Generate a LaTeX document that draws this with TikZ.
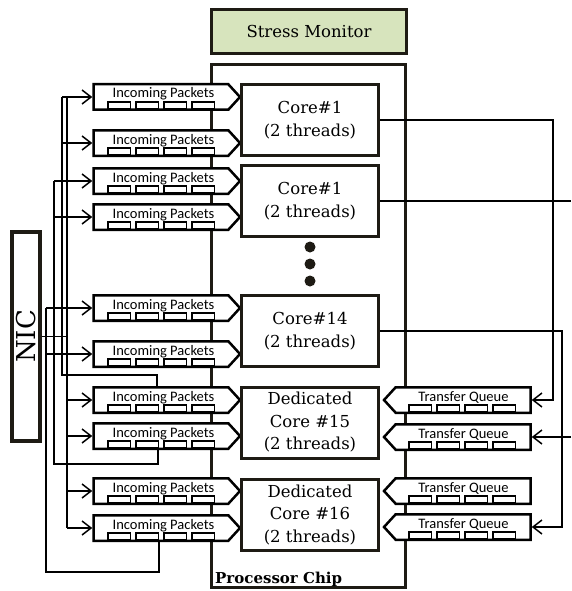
\documentclass[tikz,border=0pt]{standalone}
\usepackage{fontspec}
\setmainfont{DejaVu Serif}
\newfontfamily\qfont{Carlito}
\usetikzlibrary{arrows.meta,shapes.symbols,positioning,calc}
\definecolor{ink}{HTML}{1E1B14}
\definecolor{monbg}{HTML}{D7E4BD}
\tikzset{
  chip/.style={draw=ink, line width=3pt, minimum width=194pt, minimum height=523pt, inner sep=0pt},
  monitor/.style={draw=ink, fill=monbg, line width=3pt, minimum width=195pt, minimum height=44pt, font=\fontsize{16.5}{19}\selectfont},
  nicbox/.style={draw=ink, line width=4pt, minimum width=28pt, minimum height=209pt, inner sep=0pt},
  core/.style={draw=ink, line width=3pt, fill=white, minimum width=137pt, minimum height=71pt, align=center, font=\fontsize{16.5}{22.5}\selectfont, inner sep=0pt},
  inq/.style={signal, signal to=east, signal pointer angle=95, draw=black, line width=2.5pt, fill=white, minimum width=146.5pt, minimum height=25.5pt, inner sep=0pt},
  outq/.style={inq, signal to=west},
  slot/.style={draw=black, line width=1.5pt, fill=white, minimum width=22.5pt, minimum height=7pt, inner sep=0pt},
  qlab/.style={font=\qfont\fontsize{14.5}{15}\selectfont, inner sep=0pt, anchor=base},
  wire/.style={draw=black, line width=1.5pt},
  arr/.style={wire, -{Straight Barb[length=9pt,width=14pt,line width=1.5pt]}},
  dot/.style={circle, fill=ink, inner sep=0pt, minimum size=11pt},
}

\begin{document}
\begin{tikzpicture}[x=1pt,y=-1pt]
\useasboundingbox (0,0) rectangle (571,591);

% chip and monitor
\node[chip] (chip) at (308.5,326) {};
\node[monitor] (mon) at (309,31.5) {Stress Monitor};
\node[font=\bfseries\fontsize{15}{17}\selectfont, anchor=base west, inner sep=0pt] (chiplab) at (215,583) {Processor Chip};

% NIC
\node[nicbox] (nic) at (26,336.5) {};
\node[rotate=90, font=\fontsize{26}{28}\selectfont, inner sep=0pt] (niclab) at (nic.center) {NIC};

% incoming packet queues
\foreach \n/\y in {1/97,2/143,3/181,4/217,5/308,6/354,7/400,8/436,9/491,10/528} {
  \node[inq, anchor=west] (ip\n) at (92.25,\y) {};
  \node[qlab] (ipl\n) at ($(ip\n.west)+(71.25,1)$) {Incoming Packets};
  \foreach \k in {0,...,3}
    \node[slot] (ips\n-\k) at ($(ip\n.west)+(26.75+28*\k,8.5)$) {};
}

% transfer queues
\foreach \n/\y in {1/400,2/437,3/491,4/527} {
  \node[outq, anchor=east] (tq\n) at (531.75,\y) {};
  \node[qlab] (tql\n) at ($(tq\n.east)+(-68.25,1)$) {Transfer Queue};
  \foreach \k in {0,...,3}
    \node[slot] (tqs\n-\k) at ($(tq\n.east)+(-111.75+28*\k,8.5)$) {};
}

% cores
\node[core] (c1) at (310,120) {Core\#1\\(2 threads)};
\node[core] (c1b) at (310,201) {Core\#1\\(2 threads)};
\node[core] (c14) at (310,331) {Core\#14\\(2 threads)};
\node[core] (c15) at (310,422.5) {Dedicated\\Core \#15\\(2 threads)};
\node[core] (c16) at (310,515) {Dedicated\\Core \#16\\(2 threads)};

\node[dot] (d1) at (310,247) {};
\node[dot] (d2) at (310,264) {};
\node[dot] (d3) at (310,281) {};

% buses on the left
\coordinate (busA) at (67,0);
\coordinate (busB) at (62,0);
\coordinate (busC) at (54,0);
\coordinate (busD) at (46,0);
\coordinate (r7) at (157,375);
\coordinate (r8) at (158,464);
\coordinate (r10) at (159,572);

\draw[wire] (nic.east) -- (nic.east -| busA);
\draw[wire] (ip1.west -| busA) -- (ip10.west -| busA);
\draw[wire] (ip1.west -| busB) |- (r7) -- (r7 |- ip7.north);
\draw[wire] (ip3.west -| busC) |- (r8) -- (r8 |- ip8.south);
\draw[wire] (ip5.west -| busD) |- (r10) -- (r10 |- ip10.south);

\foreach \n in {1,2} \draw[arr] (ip\n.west -| busB) -- (ip\n.west);
\foreach \n in {3,4} \draw[arr] (ip\n.west -| busC) -- (ip\n.west);
\foreach \n in {5,6} \draw[arr] (ip\n.west -| busD) -- (ip\n.west);
\foreach \n in {7,...,10} \draw[arr] (ip\n.west -| busA) -- (ip\n.west);

% wires on the right
\coordinate (rA) at (553,0);
\coordinate (rB) at (562,0);
\coordinate (edge) at (571,0);
\draw[arr] (c1.east) -| (rA |- tq1.east) -- (tq1.east);
\draw[wire] (c1b.east) -- (c1b.east -| edge);
\draw[arr] (tq2.east -| edge) -- (tq2.east);
\draw[arr] (c14.east) -| (rB |- tq4.east) -- (tq4.east);
\end{tikzpicture}
\end{document}
